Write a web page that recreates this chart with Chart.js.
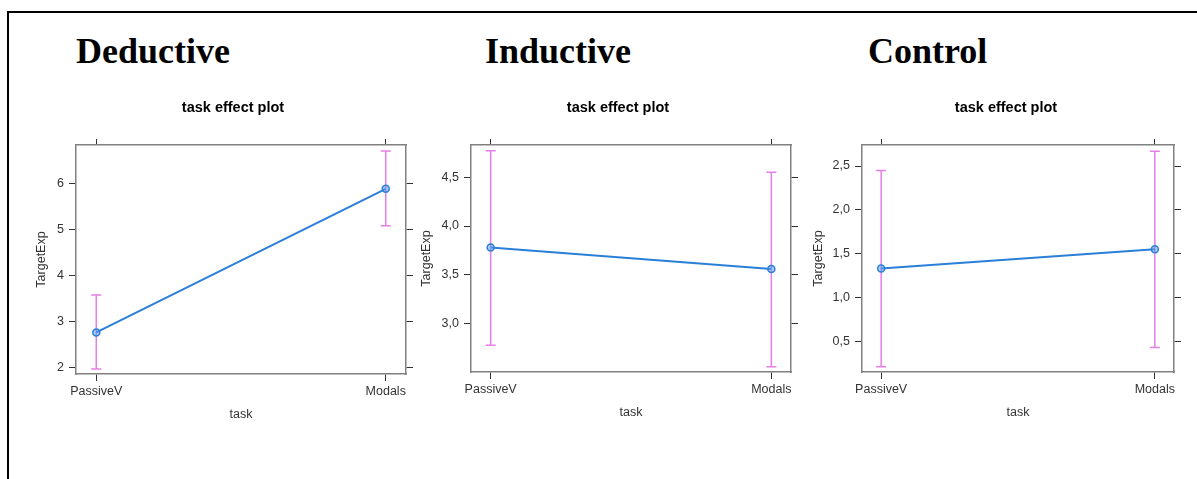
<!DOCTYPE html>
<html>
<head>
<meta charset="utf-8">
<script src="https://cdn.jsdelivr.net/npm/chart.js@4/dist/chart.umd.min.js"></script>
<style>
  html, body { margin: 0; padding: 0; background: #fff; width: 1197px; height: 479px; overflow: hidden; position: relative; }
  #frame { position: absolute; left: 7px; top: 11px; width: 1200px; height: 480px; border-top: 2px solid #000; border-left: 2px solid #000; box-sizing: border-box; }
  .head { position: absolute; top: 33px; font-family: 'Liberation Serif', 'Times New Roman', serif; font-weight: bold; font-size: 36px; line-height: 36px; color: #000; white-space: nowrap; }
  canvas { position: absolute; }
</style>
</head>
<body>
<div id="frame"></div>
<div class="head" style="left:76px">Deductive</div>
<div class="head" style="left:485px">Inductive</div>
<div class="head" style="left:868px">Control</div>
<canvas id="c1" width="426" height="339" style="left:20px;top:90px"></canvas>
<canvas id="c2" width="406" height="337" style="left:415px;top:90px"></canvas>
<canvas id="c3" width="400" height="337" style="left:806px;top:90px"></canvas>
<script>
// ---- data ----
const categories = ['PassiveV', 'Modals'];

const deductiveFit   = [2.77, 5.88];
const deductiveLower = [1.98, 5.08];
const deductiveUpper = [3.58, 6.70];
const deductiveTicks = [2, 3, 4, 5, 6];

const inductiveFit   = [3.78, 3.56];
const inductiveLower = [2.78, 2.56];
const inductiveUpper = [4.77, 4.55];
const inductiveTicks = [3.0, 3.5, 4.0, 4.5];

const controlFit   = [1.33, 1.55];
const controlLower = [0.21, 0.43];
const controlUpper = [2.45, 2.67];
const controlTicks = [0.5, 1.0, 1.5, 2.0, 2.5];

const plotTitle = 'task effect plot';
const xTitle = 'task';
const yTitle = 'TargetExp';

// ---- rendering ----
const SANS = "'Liberation Sans', Arial, sans-serif";
const TICK_COLOR = '#333';
const BOX_COLOR = '#808080';
const LINE_COLOR = '#2a7fd8';
const ERR_COLOR = '#e47ee8';

const errorBars = {
  id: 'errorBars',
  beforeDatasetsDraw(chart, args, opts) {
    const {ctx, scales: {x, y}} = chart;
    ctx.save();
    ctx.strokeStyle = ERR_COLOR;
    ctx.lineWidth = 1.5;
    opts.lower.forEach((lo, i) => {
      const px = x.getPixelForValue(i);
      const pLo = y.getPixelForValue(lo);
      const pHi = y.getPixelForValue(opts.upper[i]);
      ctx.beginPath();
      ctx.moveTo(px, pLo); ctx.lineTo(px, pHi);
      ctx.moveTo(px - 5, pLo); ctx.lineTo(px + 5, pLo);
      ctx.moveTo(px - 5, pHi); ctx.lineTo(px + 5, pHi);
      ctx.stroke();
    });
    ctx.restore();
  }
};

function fmt(v, dec) {
  return dec ? v.toFixed(1).replace('.', ',') : String(v);
}

function makePanel(id, fit, lower, upper, yTicks, yMin, yMax, dec, yTitlePad) {
  const setY = s => { s.ticks = yTicks.map(v => ({value: v})); };
  const setX = s => { s.ticks = categories.map((c, i) => ({value: i})); };
  const gridOpts = { drawOnChartArea: false, drawTicks: true, tickLength: 7, color: TICK_COLOR, tickColor: TICK_COLOR, lineWidth: 1 };
  const borderOpts = { display: true, color: BOX_COLOR, width: 1.5 };
  new Chart(document.getElementById(id), {
    type: 'scatter',
    data: {
      datasets: [{
        data: fit.map((v, i) => ({x: i, y: v})),
        showLine: true,
        borderColor: LINE_COLOR,
        borderWidth: 2,
        pointRadius: 3.5,
        pointBorderWidth: 1.5,
        pointBorderColor: LINE_COLOR,
        pointBackgroundColor: 'rgba(90,160,240,0.5)',
        clip: false
      }]
    },
    options: {
      responsive: false,
      animation: false,
      events: [],
      layout: { padding: 0 },
      plugins: {
        legend: { display: false },
        tooltip: { enabled: false },
        title: {
          display: true, text: plotTitle, color: '#000',
          font: { family: SANS, size: 14.5, weight: 'bold', lineHeight: 1.2 },
          padding: { top: 9.5, bottom: 20.1 }
        },
        errorBars: { lower, upper }
      },
      scales: {
        x: {
          type: 'linear', position: 'bottom', min: -0.07, max: 1.07,
          afterBuildTicks: setX,
          afterFit: s => { s.height = 55; },
          grid: gridOpts, border: borderOpts,
          ticks: { color: TICK_COLOR, font: { family: SANS, size: 12.5 }, padding: 3, maxRotation: 0,
                   callback: v => categories[v] },
          title: { display: true, text: xTitle, color: TICK_COLOR, font: { family: SANS, size: 12.5, lineHeight: 1.2 }, padding: { top: 0, bottom: 6.5 } }
        },
        xTop: {
          type: 'linear', position: 'top', display: true, min: -0.07, max: 1.07,
          afterBuildTicks: setX,
          afterFit: s => { s.height = 8; },
          grid: Object.assign({}, gridOpts, { tickLength: 6 }), border: borderOpts,
          ticks: { display: false }
        },
        y: {
          type: 'linear', position: 'left', min: yMin, max: yMax,
          afterBuildTicks: setY,
          afterFit: s => { s.width = 56; },
          grid: gridOpts, border: borderOpts,
          ticks: { color: TICK_COLOR, font: { family: SANS, size: 12.5 }, padding: 5,
                   callback: v => fmt(v, dec) },
          title: { display: true, text: yTitle, color: TICK_COLOR, font: { family: SANS, size: 12.5, lineHeight: 1.2 }, padding: { top: yTitlePad, bottom: 0 } }
        },
        yRight: {
          type: 'linear', position: 'right', display: true, min: yMin, max: yMax,
          afterBuildTicks: setY,
          afterFit: s => { s.width = id === 'c1' ? 40 : (id === 'c2' ? 30 : 32); },
          grid: gridOpts, border: borderOpts,
          ticks: { display: false }
        }
      }
    },
    plugins: [errorBars]
  });
}

makePanel('c1', deductiveFit, deductiveLower, deductiveUpper, deductiveTicks, 1.87, 6.83, false, 14.5);
makePanel('c2', inductiveFit, inductiveLower, inductiveUpper, inductiveTicks, 2.505, 4.83, true, 4.2);
makePanel('c3', controlFit, controlLower, controlUpper, controlTicks, 0.15, 2.74, true, 4.8);
</script>
</body>
</html>
